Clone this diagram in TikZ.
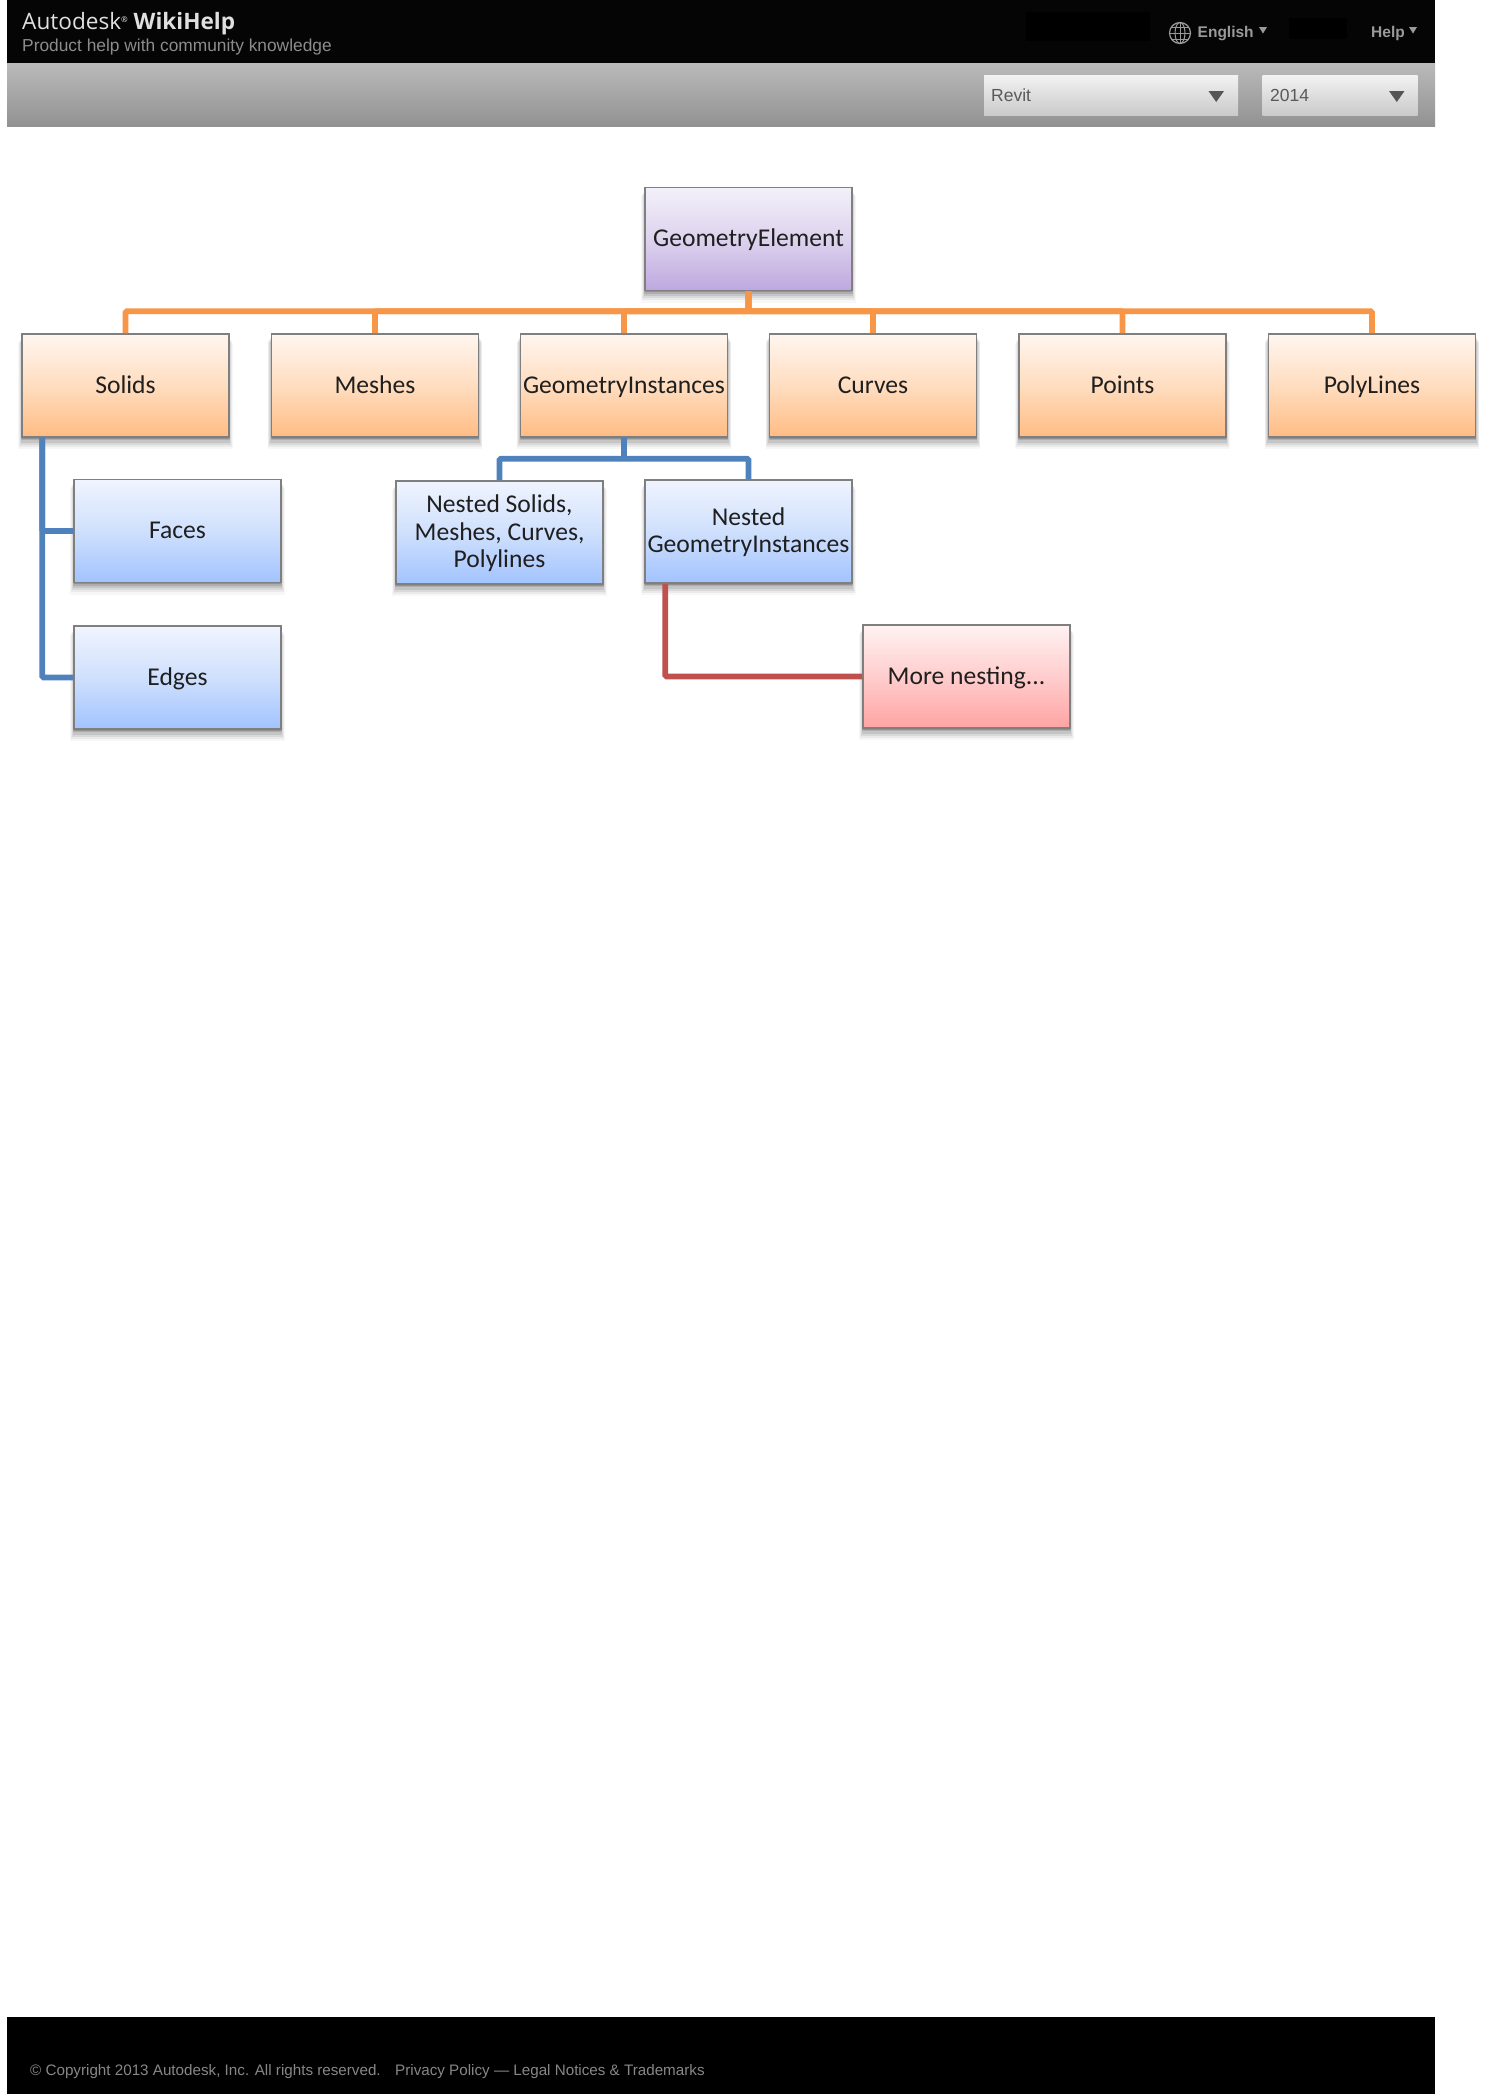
\documentclass[tikz,border=0pt]{standalone}
\usepackage{fontspec}
\setmainfont{Carlito}
\newfontfamily\hdrfont{Open Sans}
\newfontfamily\webfont{Liberation Sans}
\usetikzlibrary{shadows,calc}
\newcommand{\boxline}[1]{\rule[-5.5pt]{0pt}{26pt}\smash{#1}}
\definecolor{orgline}{HTML}{F79646}
\definecolor{bluline}{HTML}{4F81BD}
\definecolor{redline}{HTML}{C0504D}
\definecolor{boxedge}{HTML}{7F7F7F}
\tikzset{
  softshadow/.style={
    general shadow={fill=black,opacity=.03,shadow scale=1.035,shadow xshift=0pt,shadow yshift=-10pt},
    general shadow={fill=black,opacity=.05,shadow scale=1.03,shadow xshift=0pt,shadow yshift=-8pt},
    general shadow={fill=black,opacity=.07,shadow scale=1.022,shadow xshift=0pt,shadow yshift=-6.5pt},
    general shadow={fill=black,opacity=.09,shadow scale=1.014,shadow xshift=0pt,shadow yshift=-5pt},
    general shadow={fill=black,opacity=.12,shadow scale=1.007,shadow xshift=0pt,shadow yshift=-3pt},
    general shadow={fill=black,opacity=.16,shadow scale=1,shadow xshift=0pt,shadow yshift=-1.5pt}},
  treebox/.style={rectangle,draw=boxedge,line width=1.6pt,inner sep=0pt,
    minimum width=207pt,minimum height=103pt,align=center,text=black!88,softshadow,
    font=\fontsize{25.6}{27.3}\selectfont},
  purplebox/.style={treebox,top color=F2purple,bottom color=B2purple,middle color=M2purple},
  orangebox/.style={treebox,top color=F2orange,bottom color=B2orange,middle color=M2orange},
  bluebox/.style={treebox,top color=F2blue,bottom color=B2blue,middle color=M2blue},
  redbox/.style={treebox,top color=F2red,bottom color=B2red,middle color=M2red},
  link/.style={line width=5.8pt,rounded corners=1.5pt,line cap=butt},
  orglink/.style={link,draw=orgline},
  blulink/.style={link,draw=bluline},
  redlink/.style={link,draw=redline},
  webtext/.style={anchor=base west,inner sep=0pt,text=webgray},
  dropbox/.style={rectangle,draw=none,inner sep=0pt,top color=dropT,bottom color=dropB},
  droptri/.style={fill=droparrow,draw=none},
  hdrtri/.style={fill=webgray,draw=none}
}
\definecolor{F2purple}{HTML}{F3F0F9}\definecolor{M2purple}{HTML}{DDD3EE}\definecolor{B2purple}{HTML}{BEA7DF}
\definecolor{F2orange}{HTML}{FFF6EF}\definecolor{M2orange}{HTML}{FFDDC0}\definecolor{B2orange}{HTML}{FFBC84}
\definecolor{F2blue}{HTML}{F0F4FE}\definecolor{M2blue}{HTML}{CFE0FD}\definecolor{B2blue}{HTML}{A2C3FE}
\definecolor{F2red}{HTML}{FFF2F2}\definecolor{M2red}{HTML}{FFCDCD}\definecolor{B2red}{HTML}{FFA3A3}
\definecolor{webgray}{HTML}{9A9A9A}
\definecolor{dropT}{HTML}{F2F2F2}\definecolor{dropB}{HTML}{C9C9C9}
\definecolor{droparrow}{HTML}{555555}
\begin{document}
\begin{tikzpicture}[x=1pt,y=-1pt]
\useasboundingbox (0,0) rectangle (1493,2094);
\fill[white] (0,0) rectangle (1493,2094);
% header
\fill[black!98] (7,0) rectangle (1435,63);
\fill[black] (1026,12) rectangle (1150,41);
\fill[black] (1289,18) rectangle (1347,39);
\shade[top color=black!27,bottom color=black!43] (7,63) rectangle (1435,126.5);
\node[anchor=base west,inner sep=0pt,text=white!88!black,font=\hdrfont\fontsize{22.6}{26}\selectfont] (brand) at (22,29) {Autodesk\raisebox{7pt}{\fontsize{8}{8}\selectfont ®} \textbf{WikiHelp}};
\node[webtext,text=black!45,font=\webfont\fontsize{17.35}{20}\selectfont] (tagline) at (22,51) {Product help with community knowledge};
\draw[webgray,line width=1.2pt] (1180,33) circle (10.5);
\draw[webgray,line width=1pt] (1180,33) ellipse (5 and 10.5);
\draw[webgray,line width=1pt] (1169.5,33) -- (1190.5,33) (1171,27) -- (1189,27) (1171,39) -- (1189,39) (1180,22.5) -- (1180,43.5);
\node[webtext,font=\webfont\bfseries\fontsize{15.5}{18}\selectfont] (lang) at (1197.5,37) {English};
\fill[hdrtri] (1259,27) -- (1267,27) -- (1263,33.5) -- cycle;
\node[webtext,font=\webfont\bfseries\fontsize{15.5}{18}\selectfont] (help) at (1371,37) {Help};
\fill[hdrtri] (1409,27) -- (1417,27) -- (1413,33.5) -- cycle;
\node[dropbox,minimum width=254pt,minimum height=40.5pt,anchor=north west] (prod) at (984,75) {};
\node[dropbox,minimum width=155pt,minimum height=40.5pt,anchor=north west] (ver) at (1262.5,75) {};
\node[anchor=base west,inner sep=0pt,text=black!65,font=\webfont\fontsize{17.5}{20}\selectfont] (prodt) at (991,101.5) {Revit};
\node[anchor=base west,inner sep=0pt,text=black!65,font=\webfont\fontsize{17.5}{20}\selectfont] (vert) at (1270,101.5) {2014};
\fill[droptri] (1208.5,91) -- (1224,91) -- (1216.2,102) -- cycle;
\fill[droptri] (1389,91) -- (1404.5,91) -- (1396.8,102) -- cycle;
% footer
\fill[black] (7,2017) rectangle (1435,2094);
\node[webtext,text=black!47,font=\webfont\fontsize{15.2}{18}\selectfont] (copy) at (30,2075) {© Copyright 2013 Autodesk, Inc. All rights reserved.};
\node[webtext,text=black!47,font=\webfont\fontsize{15.2}{18}\selectfont] (legal) at (395,2075) {Privacy Policy — Legal Notices \& Trademarks};
\path (748.5,239) coordinate (geC) (125.5,385.5) coordinate (soC) (375,385.5) coordinate (meC)
  (624,385.5) coordinate (giC) (873,385.5) coordinate (cuC) (1122.5,385.5) coordinate (poC)
  (1372,385.5) coordinate (plC) (177.5,531) coordinate (faC) (177.5,677.5) coordinate (edC)
  (499.5,532.5) coordinate (nsC) (748.5,531.5) coordinate (ngC) (966.5,676.5) coordinate (moC);
% boxes
\node[purplebox] (GE) at (geC) {\boxline{GeometryElement}};
\node[orangebox] (Solids) at (soC) {\boxline{Solids}};
\node[orangebox] (Meshes) at (meC) {\boxline{Meshes}};
\node[orangebox] (GI) at (giC) {\boxline{GeometryInstances}};
\node[orangebox] (Curves) at (cuC) {\boxline{Curves}};
\node[orangebox] (Points) at (poC) {\boxline{Points}};
\node[orangebox] (PolyLines) at (plC) {\boxline{PolyLines}};
\node[bluebox] (Faces) at (faC) {\boxline{Faces}};
\node[bluebox] (Edges) at (edC) {\boxline{Edges}};
\node[bluebox] (NS) at (nsC) {\boxline{Nested Solids,}\\\boxline{Meshes, Curves,}\\\boxline{Polylines}};
\node[bluebox] (NG) at (ngC) {\boxline{Nested}\\\boxline{GeometryInstances}};
\node[redbox] (More) at (moC) {\boxline{More nesting...}};
% connectors
\draw[orglink] (GE.south) -- ++(0,20) -| (Solids.north);
\draw[orglink] (GE.south) -- ++(0,20) -| (PolyLines.north);
\draw[orglink] (GE.south) -- ++(0,20) -| (Meshes.north);
\draw[orglink] (GE.south) -- ++(0,20) -| (GI.north);
\draw[orglink] (GE.south) -- ++(0,20) -| (Curves.north);
\draw[orglink] (GE.south) -- ++(0,20) -| (Points.north);
\draw[blulink] (GI.south) -- ++(0,21) -| (NS.north);
\draw[blulink] (GI.south) -- ++(0,21) -| (NG.north);
\path (Solids.south west) ++(21,0) coordinate (soT);
\draw[blulink] (soT) |- (Faces.west);
\draw[blulink] (soT) |- (Edges.west);
\path (NG.south west) ++(21,0) coordinate (ngT);
\draw[redlink] (ngT) |- (More.west);
\end{tikzpicture}
\end{document}
